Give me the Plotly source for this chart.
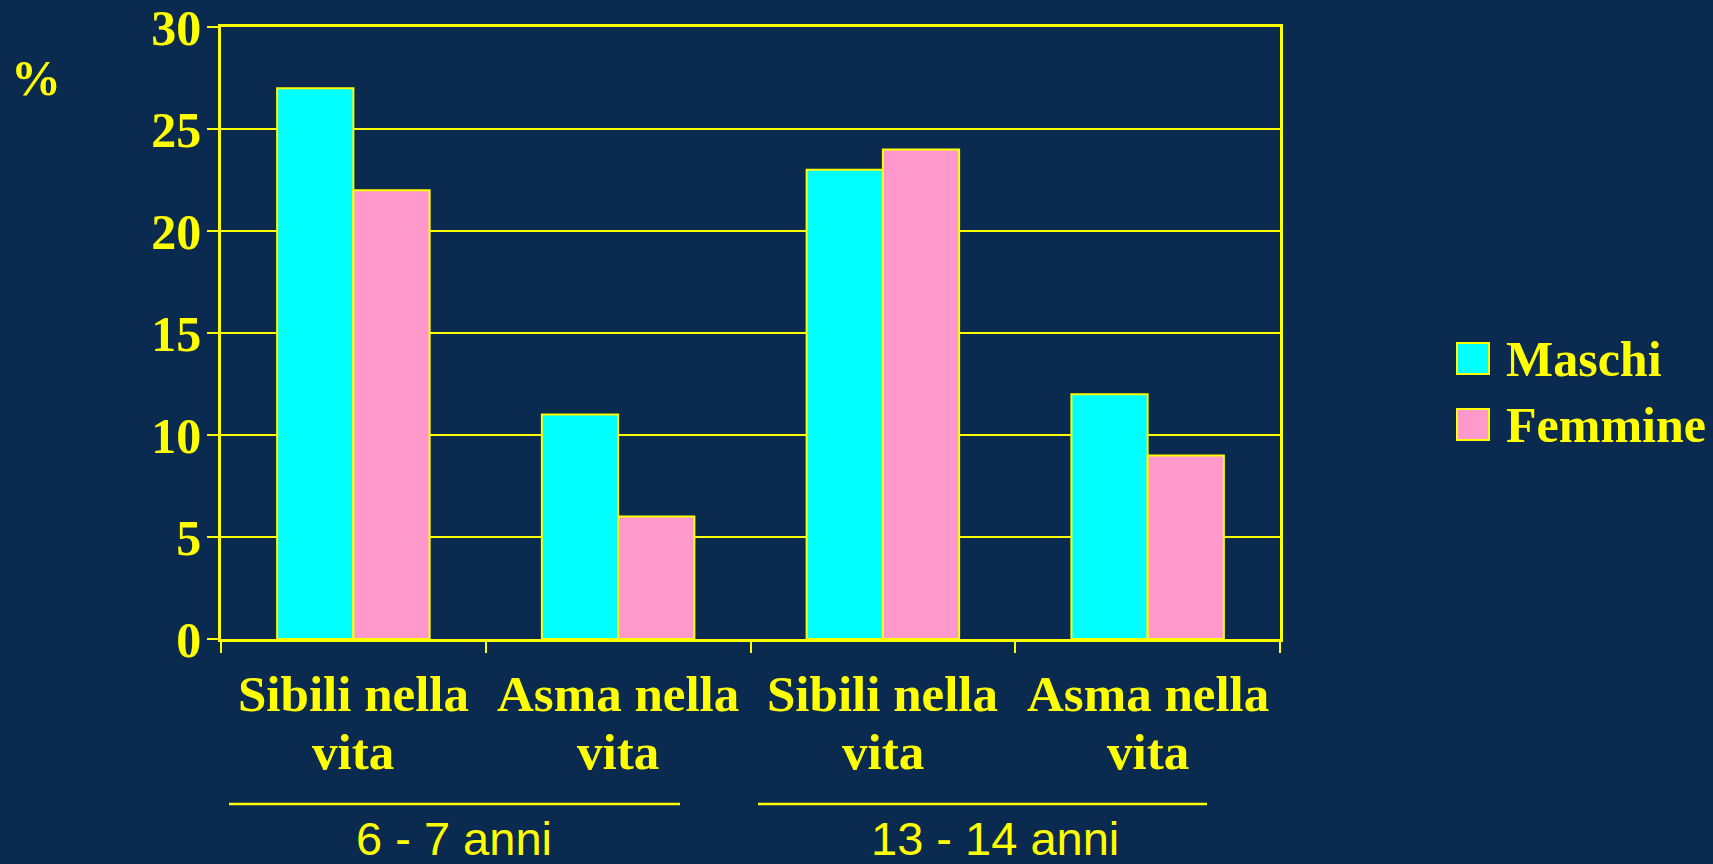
import plotly.graph_objects as go

# Data
categories = ["Sibili nella vita (6-7)", "Asma nella vita (6-7)",
              "Sibili nella vita (13-14)", "Asma nella vita (13-14)"]
label_lines = [("Sibili nella", "vita"), ("Asma nella", "vita"),
               ("Sibili nella", "vita"), ("Asma nella", "vita")]
maschi = [27, 11, 23, 12]
femmine = [22, 6, 24, 9]
series_names = ["Maschi", "Femmine"]
age_groups = ["6 - 7 anni", "13 - 14 anni"]
y_ticks = [0, 5, 10, 15, 20, 25, 30]

BG = "#0A2A4F"
YELLOW = "#FFFF00"
CYAN = "#00FFFF"
PINK = "#FF99CC"

W, H = 1713, 864
L, R, T, B = 221, 1280, 27, 639  # plot area in pixels


def px_x(p):
    return (p - L) / (R - L)


def px_y(p):
    return (B - p) / (B - T)


fig = go.Figure()
fig.add_trace(go.Bar(x=categories, y=maschi, name=series_names[0],
                     marker=dict(color=CYAN, line=dict(color=YELLOW, width=2)),
                     showlegend=False))
fig.add_trace(go.Bar(x=categories, y=femmine, name=series_names[1],
                     marker=dict(color=PINK, line=dict(color=YELLOW, width=2)),
                     showlegend=False))

serif = "Liberation Serif, Times New Roman, serif"
sans = "Liberation Sans, Arial, sans-serif"

fig.update_layout(
    width=W, height=H,
    margin=dict(l=L, r=W - R, t=T, b=H - B, autoexpand=False),
    paper_bgcolor=BG, plot_bgcolor=BG,
    barmode="group", bargap=0.424, bargroupgap=0,
    font=dict(family=serif, color=YELLOW),
    xaxis=dict(
        tickvals=categories, showticklabels=False, automargin=False,
        tickson="boundaries", ticks="outside", ticklen=11, tickwidth=2,
        tickcolor=YELLOW, showline=True, linecolor=YELLOW, linewidth=2.5,
        mirror=True, showgrid=False,
    ),
    yaxis=dict(
        range=[0, 30], tickvals=y_ticks, ticks="outside", ticklen=11,
        tickwidth=2, tickcolor=YELLOW, showline=True, linecolor=YELLOW,
        linewidth=2.5, mirror=True, showgrid=True, gridcolor=YELLOW,
        gridwidth=2, zeroline=False, ticklabelstandoff=-4, automargin=False,
        ticklabeloverflow="allow",
        tickfont=dict(family=serif, size=50, color=YELLOW, weight="bold"),
    ),
)

# Category labels, two lines each, centred under each category
for cat, (line1, line2) in zip(categories, label_lines):
    for text, mid in ((line1, 694), (line2, 752)):
        fig.add_annotation(text=f"<b>{text}</b>", xref="x", yref="paper",
                           x=cat, y=px_y(mid), xanchor="center", yanchor="middle",
                           showarrow=False,
                           font=dict(family=serif, size=51, color=YELLOW))

# "%" axis unit
fig.add_annotation(text="<b>%</b>", xref="paper", yref="paper",
                   x=px_x(36), y=px_y(78), xanchor="center", yanchor="middle",
                   showarrow=False, font=dict(family=serif, size=50, color=YELLOW))

# Age group brackets and labels
group_lines = [(229, 680), (758, 1207)]
group_centers = [454, 995]
for (x0, x1), cx, label in zip(group_lines, group_centers, age_groups):
    fig.add_shape(type="line", xref="paper", yref="paper",
                  x0=px_x(x0), x1=px_x(x1), y0=px_y(804), y1=px_y(804),
                  line=dict(color=YELLOW, width=2.5))
    fig.add_annotation(text=label, xref="paper", yref="paper",
                       x=px_x(cx), y=px_y(838), xanchor="center", yanchor="middle",
                       showarrow=False, font=dict(family=sans, size=47, color=YELLOW))

# Legend
legend_rows = [(343, CYAN), (409, PINK)]
for (top, color), name in zip(legend_rows, series_names):
    fig.add_shape(type="rect", xref="paper", yref="paper",
                  x0=px_x(1457), x1=px_x(1489), y0=px_y(top), y1=px_y(top + 31),
                  fillcolor=color, line=dict(color=YELLOW, width=2))
    fig.add_annotation(text=f"<b>{name}</b>", xref="paper", yref="paper",
                       x=px_x(1504), y=px_y(top + 16), xanchor="left", yanchor="middle",
                       showarrow=False, font=dict(family=serif, size=50, color=YELLOW))

fig.write_html("out.html")
